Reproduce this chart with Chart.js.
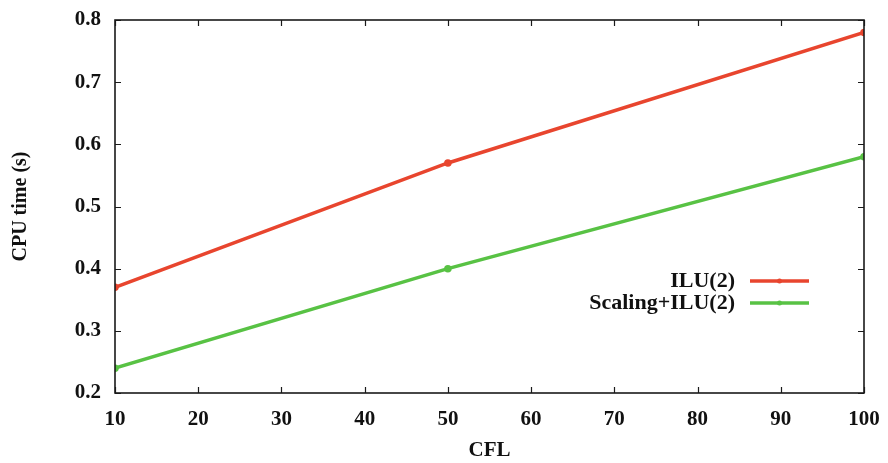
<!DOCTYPE html>
<html>
<head>
<meta charset="utf-8">
<script src="https://cdn.jsdelivr.net/npm/chart.js@4/dist/chart.umd.min.js"></script>
<style>
  html, body { margin: 0; padding: 0; background: #fff; }
  #wrap { width: 888px; height: 463px; }
</style>
</head>
<body>
<div id="wrap"><canvas id="cpu"></canvas></div>
<script>
// CFL values where runs were timed
var cflValues = [10, 50, 100];
// CPU time (s) per preconditioner
var iluTimes = [0.37, 0.57, 0.78];
var scalingIluTimes = [0.24, 0.40, 0.58];
var seriesNames = ['ILU(2)', 'Scaling+ILU(2)'];
var xTicks = [10, 20, 30, 40, 50, 60, 70, 80, 90, 100];
var yTicks = [0.2, 0.3, 0.4, 0.5, 0.6, 0.7, 0.8];

var red = '#e8452e';
var green = '#58c244';
var serif = "'Liberation Serif', 'DejaVu Serif', serif";

function toPoints(xs, ys) {
	var pts = [];
	for (var i = 0; i < xs.length; i++) {
		pts.push({ x: xs[i], y: ys[i] });
	}
	return pts;
}

// frame with gnuplot-style inward ticks on all four sides
var framePlugin = {
	id: 'frame',
	afterDatasetsDraw: function(chart) {
		var ctx = chart.ctx;
		var a = chart.chartArea;
		var xs = chart.scales.x, ys = chart.scales.y;
		var len = 6;
		ctx.save();
		ctx.strokeStyle = '#1a1a1a';
		ctx.lineWidth = 1.2;
		ctx.beginPath();
		xTicks.forEach(function(v) {
			var px = Math.round(xs.getPixelForValue(v)) + 0.5;
			ctx.moveTo(px, a.bottom); ctx.lineTo(px, a.bottom - len);
			ctx.moveTo(px, a.top); ctx.lineTo(px, a.top + len);
		});
		yTicks.forEach(function(v) {
			var py = Math.round(ys.getPixelForValue(v)) + 0.5;
			ctx.moveTo(a.left, py); ctx.lineTo(a.left + len, py);
			ctx.moveTo(a.right, py); ctx.lineTo(a.right - len, py);
		});
		ctx.stroke();
		ctx.lineWidth = 1.6;
		ctx.strokeRect(a.left, a.top, a.right - a.left, a.bottom - a.top);
		ctx.restore();
	}
};

// legend drawn inside the plot: right-aligned text then a line sample
var keyPlugin = {
	id: 'key',
	afterDatasetsDraw: function(chart) {
		var ctx = chart.ctx;
		var textRight = 735, lineX0 = 750, lineX1 = 809;
		var rows = [281, 303];
		ctx.save();
		ctx.font = 'bold 22px ' + serif;
		ctx.textAlign = 'right';
		ctx.textBaseline = 'middle';
		chart.data.datasets.forEach(function(ds, i) {
			ctx.fillStyle = '#111';
			ctx.fillText(ds.label, textRight, rows[i]);
			ctx.strokeStyle = ds.borderColor;
			ctx.lineWidth = 3.5;
			ctx.beginPath();
			ctx.moveTo(lineX0, rows[i]);
			ctx.lineTo(lineX1, rows[i]);
			ctx.stroke();
			ctx.fillStyle = ds.borderColor;
			ctx.beginPath();
			ctx.arc((lineX0 + lineX1) / 2, rows[i], 2.5, 0, Math.PI * 2);
			ctx.fill();
		});
		ctx.restore();
	}
};

var chart = new Chart(document.getElementById('cpu'), {
	type: 'line',
	data: {
		datasets: [{
			label: seriesNames[0],
			data: toPoints(cflValues, iluTimes),
			borderColor: red,
			backgroundColor: red,
			borderWidth: 3.5,
			pointRadius: 2,
			tension: 0
		}, {
			label: seriesNames[1],
			data: toPoints(cflValues, scalingIluTimes),
			borderColor: green,
			backgroundColor: green,
			borderWidth: 3.5,
			pointRadius: 2,
			tension: 0
		}]
	},
	options: {
		responsive: true,
		maintainAspectRatio: false,
		animation: false,
		layout: { padding: { top: 20, right: 24, left: 0, bottom: 0 } },
		plugins: {
			legend: { display: false },
			tooltip: { enabled: false }
		},
		scales: {
			x: {
				type: 'linear',
				min: 10,
				max: 100,
				afterBuildTicks: function(scale) {
					scale.ticks = xTicks.map(function(v) { return { value: v }; });
				},
				afterFit: function(scale) {
					scale.height = 70;
					scale.paddingLeft = 0;
					scale.paddingRight = 0;
				},
				grid: { display: false, drawTicks: false },
				border: { display: false },
				ticks: {
					padding: 14,
					color: '#111',
					maxRotation: 0,
					font: { family: serif, size: 21, weight: 'bold' }
				},
				title: {
					display: true,
					text: 'CFL',
					color: '#111',
					padding: { top: 12, bottom: 0 },
					font: { family: serif, size: 21, weight: 'bold' }
				}
			},
			y: {
				min: 0.2,
				max: 0.8,
				afterBuildTicks: function(scale) {
					scale.ticks = yTicks.map(function(v) { return { value: v }; });
				},
				afterFit: function(scale) {
					scale.width = 115;
					scale.paddingTop = 0;
					scale.paddingBottom = 0;
				},
				grid: { display: false, drawTicks: false },
				border: { display: false },
				ticks: {
					padding: 14,
					color: '#111',
					font: { family: serif, size: 21, weight: 'bold' },
					callback: function(v) { return Number(v).toFixed(1); }
				},
				title: {
					display: true,
					text: 'CPU time (s)',
					color: '#111',
					padding: { top: 9, bottom: 0 },
					font: { family: serif, size: 20, weight: 'bold' }
				}
			}
		}
	},
	plugins: [framePlugin, keyPlugin]
});
</script>
</body>
</html>
